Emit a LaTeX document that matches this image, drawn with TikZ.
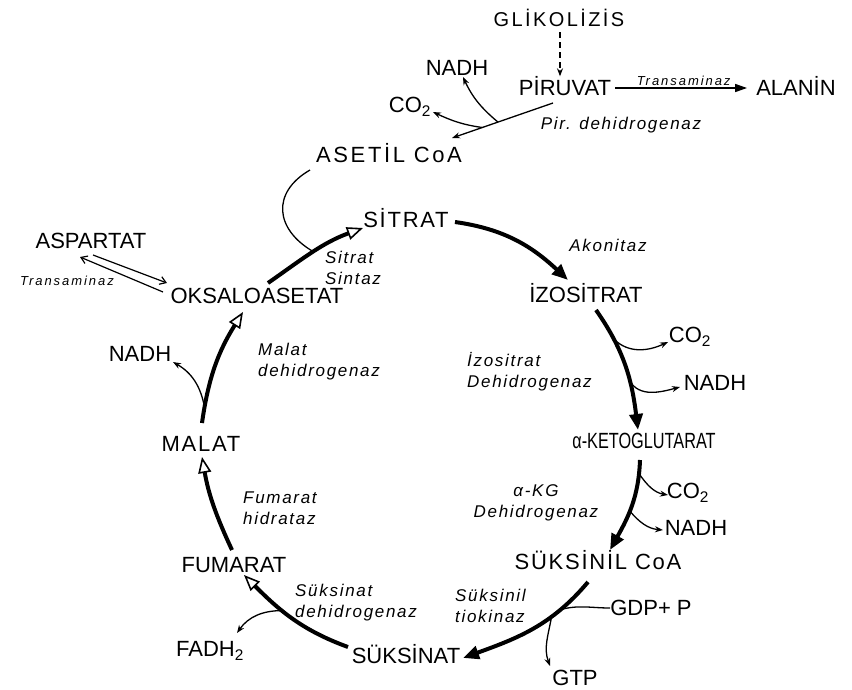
\documentclass[tikz,border=0pt]{standalone}
\usepackage{fontspec}
\setmainfont{Liberation Sans}
\newfontfamily\semi[LetterSpace=8]{Liberation Sans}
\newfontfamily\wide[LetterSpace=12]{Liberation Sans}
\newfontfamily\narrow[FakeStretch=0.74]{Liberation Sans}
\newfontfamily\hand[LetterSpace=10]{Liberation Sans}
\newfontfamily\tinyhand[LetterSpace=15]{Liberation Sans}
\usetikzlibrary{arrows.meta}

\begin{document}
\begin{tikzpicture}[x=1pt,y=1pt,
  met/.style={font=\fontsize{22}{26}\selectfont, inner sep=0pt, text height=15pt, text depth=0pt},
  semimet/.style={met, font=\semi\fontsize{22}{26}\selectfont},
  widemet/.style={met, font=\wide\fontsize{22}{26}\selectfont},
  enz/.style={font=\hand\itshape\fontsize{17}{21}\selectfont, inner sep=0pt, align=left},
  tiny/.style={font=\tinyhand\itshape\fontsize{13}{15}\selectfont, inner sep=2pt},
  cyc/.style={line width=4pt, -{Triangle[length=16pt,width=13pt]}},
  cycopen/.style={line width=4pt, -{Triangle[open,length=16pt,width=13pt,line width=1.6pt]}},
  side/.style={line width=1.3pt, -{Stealth[length=8pt,width=6pt]}}]
  \useasboundingbox (0,0) rectangle (852,-689);

  % pyruvate part
  \node[widemet, font=\wide\fontsize{20}{24}\selectfont, text height=14pt] (glik) at (559,-19) {GLİKOLİZİS};
  \node[met] (piru) at (565,-88) {PİRUVAT};
  \node[met] (alan) at (796,-88) {ALANİN};
  \node[met] (nadhP) at (457,-68) {NADH};
  \node[met] (co2P) at (410,-105) {CO\textsubscript{2}};
  \node[enz] (pdh) at (621,-125) {Pir. dehidrogenaz};
  \node[widemet] (acoa) at (389,-155) {ASETİL CoA};

  \draw[line width=1.2pt, dash pattern=on 6pt off 4pt, -{Stealth[length=8pt,width=6pt]}, shorten <=6pt, shorten >=4pt]
    ([xshift=1pt]glik.south) -- ([xshift=-5pt]piru.north);
  \draw[line width=1.5pt, -{Triangle[length=12pt,width=8pt]}, shorten <=4pt, shorten >=9pt]
    (piru.east) -- node[tiny, above] (trA) {Transaminaz} (alan.west);
  \draw[side] ([shift={(-12,-15)}]piru.center) -- coordinate[pos=0.545] (pj1) coordinate[pos=0.70] (pj2)
    ([shift={(63,17)}]acoa.center);
  \draw[side] (pj1) to[out=140,in=-65] ([shift={(6,-9)}]nadhP.center);
  \draw[side] (pj2) to[out=172,in=-25] ([shift={(23,-7)}]co2P.center);

  % cycle
  \node[semimet] (sit) at (406,-220) {SİTRAT};
  \node[met] (izo) at (586,-295) {İZOSİTRAT};
  \node[met, font=\narrow\fontsize{22}{26}\selectfont] (akg) at (644,-441) {α-KETOGLUTARAT};
  \node[semimet] (scoa) at (598,-562) {SÜKSİNİL CoA};
  \node[met] (suk) at (406,-656) {SÜKSİNAT};
  \node[met] (fum) at (234,-565) {FUMARAT};
  \node[semimet] (mal) at (201,-444) {MALAT};
  \node[met] (oaa) at (257,-296) {OKSALOASETAT};

  \node[met] (asp) at (91,-241) {ASPARTAT};
  \node[tiny] (trB) at (67,-281) {Transaminaz};
  \node[met] (nadhL) at (140,-354) {NADH};
  \node[met] (fadh) at (210,-649) {FADH\textsubscript{2}};
  \node[met] (gtp) at (575,-678) {GTP};
  \node[met] (gdp) at (651,-608) {GDP+ P};
  \node[met] (co2a) at (690,-335) {CO\textsubscript{2}};
  \node[met] (nadhI) at (715,-383) {NADH};
  \node[met] (co2b) at (688,-491) {CO\textsubscript{2}};
  \node[met] (nadhK) at (696,-528) {NADH};

  % enzymes
  \node[enz] (akon) at (608,-245) {Akonitaz};
  \node[enz, anchor=west] (izodh) at (467,-372) {İzositrat\\Dehidrogenaz};
  \node[enz, align=center] (kgdh) at (536,-503) {α-KG\\Dehidrogenaz};
  \node[enz, anchor=west] (stk) at (455,-606) {Süksinil\\tiokinaz};
  \node[enz, anchor=west] (sdh) at (295,-603) {Süksinat\\dehidrogenaz};
  \node[enz, anchor=west] (fh) at (243,-508) {Fumarat\\hidrataz};
  \node[enz, anchor=west] (mdh) at (258,-362) {Malat\\dehidrogenaz};
  \node[enz, anchor=west] (cs) at (325,-268) {Sitrat\\Sintaz};

  \draw[cyc] ([shift={(49,-2)}]sit.center) to[out=-8,in=137] ([shift={(-18,15)}]izo.center);
  \draw[cyc] ([shift={(10,-15)}]izo.center) to[out=-55,in=97] coordinate[pos=0.25] (ij1) coordinate[pos=0.62] (ij2)
    ([shift={(-6,11)}]akg.center);
  \draw[cyc] ([shift={(-4,-19)}]akg.center) to[out=-92,in=61] coordinate[pos=0.13] (kj1) coordinate[pos=0.55] (kj2)
    ([shift={(12,12)}]scoa.center);
  \draw[cyc] ([shift={(-10,-20)}]scoa.center) to[out=-130,in=20] coordinate[pos=0.25] (sj1) coordinate[pos=0.33] (sj2)
    ([shift={(57,-2)}]suk.center);
  \draw[cycopen] ([shift={(-58,9)}]suk.center) to[out=160,in=-45] coordinate[pos=0.6] (fj)
    ([shift={(10,-10)}]fum.center);
  \draw[cycopen] ([shift={(-2,15)}]fum.center) to[out=115,in=-80] ([shift={(1,-13)}]mal.center);
  \draw[cycopen] ([shift={(1,21)}]mal.center) to[out=82,in=-122] coordinate[pos=0.12] (mj)
    ([shift={(-14,-16)}]oaa.center);
  \draw[cycopen] ([shift={(11,13)}]oaa.center) to[out=35,in=200] coordinate[pos=0.5] (cj)
    ([shift={(-43,-8)}]sit.center);

  % side products
  \draw[line width=1.3pt] ([shift={(-79,-15)}]acoa.center) to[out=210,in=150,looseness=1.4] (cj);
  \draw[side] (ij1) to[out=-45,in=205] ([shift={(-22,-7)}]co2a.center);
  \draw[side] (ij2) to[out=-60,in=195] ([shift={(-35,-4)}]nadhI.center);
  \draw[side] (kj1) to[out=-55,in=170] ([shift={(-20,-4)}]co2b.center);
  \draw[side] (kj2) to[out=-50,in=175] ([shift={(-33,-2)}]nadhK.center);
  \draw[line width=1.3pt] (gdp.west) to[out=180,in=15] (sj1);
  \draw[side] (sj2) to[out=-100,in=110] ([shift={(-25,12)}]gtp.center);
  \draw[side] (fj) to[out=180,in=55] ([shift={(27,16)}]fadh.center);
  \draw[side] (mj) to[out=100,in=-30] ([shift={(33,-8)}]nadhL.center);
  \draw[line width=1.2pt, -{Straight Barb[length=6pt,width=8pt]}] ([shift={(2,-14)}]asp.center) -- ([shift={(-90,13)}]oaa.center);
  \draw[line width=1.2pt, -{Straight Barb[length=6pt,width=8pt]}] ([shift={(-94,4)}]oaa.center) -- ([shift={(-11,-16)}]asp.center);
\end{tikzpicture}
\end{document}
